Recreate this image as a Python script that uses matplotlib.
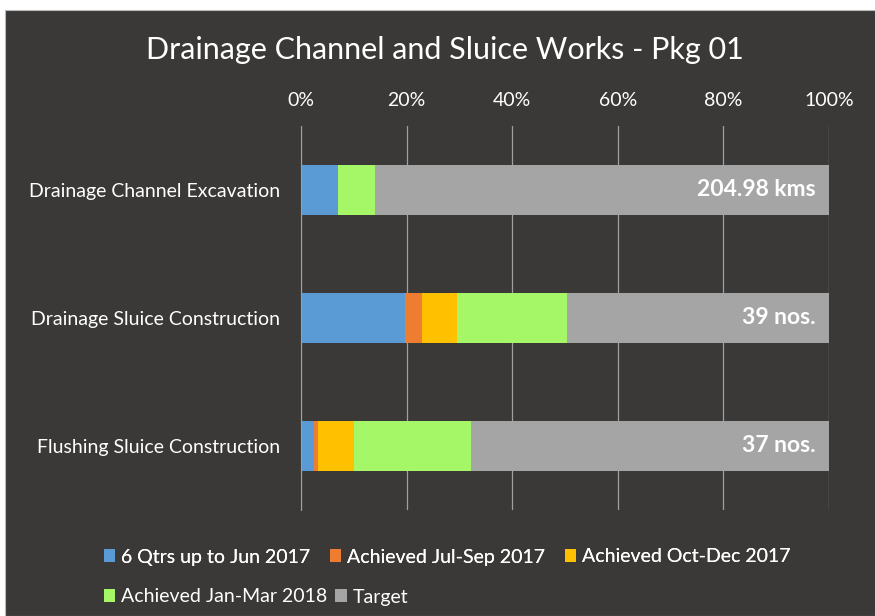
import numpy as np
import matplotlib.pyplot as plt
from matplotlib.patches import Rectangle, Patch

categories = ["Drainage Channel Excavation", "Drainage Sluice Construction", "Flushing Sluice Construction"]
series_names = ["6 Qtrs up to Jun 2017", "Achieved Jul-Sep 2017", "Achieved Oct-Dec 2017",
                "Achieved Jan-Mar 2018", "Target"]
# percent of total
qtrs6 = [7.0, 19.7, 2.5]
jul_sep = [0.0, 3.3, 0.7]
oct_dec = [0.0, 6.5, 6.8]
jan_mar = [7.0, 20.8, 22.2]
target = [86.0, 49.7, 67.8]
totals = ["204.98 kms", "39 nos.", "37 nos."]

colors = ["#5B9BD5", "#ED7D31", "#FFC000", "#A6F767", "#A5A5A5"]
bg = "#3A3938"

plt.rcParams['font.family'] = ['Lato', 'DejaVu Sans']

fig = plt.figure(figsize=(8.75, 6.16), dpi=100, facecolor="white")
fig.patches.append(Rectangle((5 / 875, 0), 1, 1 - 10 / 616, transform=fig.transFigure,
                             facecolor=bg, edgecolor="#bbbbbb", lw=0.8, zorder=-5))

ax = fig.add_axes([301 / 875, 1 - 510 / 616, 528 / 875, 384 / 616])
ax.set_zorder(2)
ax.set_facecolor(bg)
ax.patch.set_alpha(0)

y = np.arange(len(categories))
left = np.zeros(len(categories))
for vals, name, c in zip([qtrs6, jul_sep, oct_dec, jan_mar, target], series_names, colors):
    ax.barh(y, vals, left=left, height=0.39, color=c, label=name, zorder=3)
    left += np.array(vals)

for i, t in enumerate(totals):
    ax.text(97.4, y[i], t, color="white", fontsize=16.5, fontweight="bold",
            ha="right", va="center", zorder=4)

ax.set_xlim(0, 100)
ax.set_ylim(2.5, -0.5)
ax.set_xticks(np.arange(0, 101, 20))
ax.set_xticklabels([f"{v}%" for v in range(0, 101, 20)])
ax.xaxis.tick_top()
ax.tick_params(axis="x", colors="white", labelsize=14, length=0, pad=12)
ax.set_yticks(y)
ax.set_yticklabels(categories)
ax.tick_params(axis="y", colors="white", labelsize=14, length=0, pad=15)
ax.grid(axis="x", color="#A0A0A0", lw=0.9, zorder=0)
for s in ["top", "right", "bottom"]:
    ax.spines[s].set_visible(False)
ax.spines["left"].set_color("#A0A0A0")
ax.spines["left"].set_zorder(5)

fig.text(0.508, 1 - 50 / 616, "Drainage Channel and Sluice Works - Pkg 01", color="white",
         fontsize=22, ha="center", va="center")

handles = [Patch(facecolor=c) for c in colors]
leg1 = fig.legend(handles[:3], series_names[:3], ncol=3, loc="center left",
                  bbox_to_anchor=(86 / 875, 1 - 557 / 616), frameon=False,
                  labelcolor="white", fontsize=14, handlelength=0.6, handleheight=0.6,
                  handletextpad=0.3, columnspacing=1.0)
leg2 = fig.legend(handles[3:], series_names[3:], ncol=2, loc="center left",
                  bbox_to_anchor=(86 / 875, 1 - 597 / 616), frameon=False,
                  labelcolor="white", fontsize=14, handlelength=0.6, handleheight=0.6,
                  handletextpad=0.3, columnspacing=0.4)
fig.add_artist(leg1)

fig.savefig("out.png", dpi=100, facecolor=fig.get_facecolor())
